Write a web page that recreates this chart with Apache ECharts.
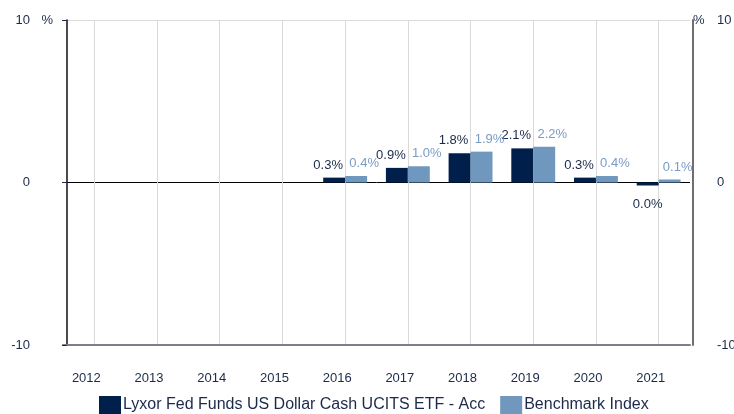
<!DOCTYPE html>
<html>
<head>
<meta charset="utf-8">
<script src="https://cdn.jsdelivr.net/npm/echarts@6/dist/echarts.min.js"></script>
<style>
  html, body { margin: 0; padding: 0; background: #fff; }
  #chart { width: 734px; height: 414px; }
</style>
</head>
<body>
<div id="chart"></div>
<script>
const years = ["2012", "2013", "2014", "2015", "2016", "2017", "2018", "2019", "2020", "2021"];
const fundName = "Lyxor Fed Funds US Dollar Cash UCITS ETF - Acc";
const benchName = "Benchmark Index";
const fundValues = [null, null, null, null, 0.3, 0.9, 1.8, 2.1, 0.3, -0.02];
const benchValues = [null, null, null, null, 0.4, 1.0, 1.9, 2.2, 0.4, 0.1];
const yTicks = [-10, 0, 10];

const navy = "#001f4b";
const steel = "#7098bf";
const textDark = "#1b2a4a";
const font = "'Liberation Sans', Arial, sans-serif";

function pct(v) {
  let s = Number(v).toFixed(1);
  if (s === "-0.0") s = "0.0";
  return s + "%";
}

const chart = echarts.init(document.getElementById("chart"), null, { renderer: "canvas" });

chart.setOption({
  animation: false,
  textStyle: { fontFamily: font },
  grid: { left: 63, right: 44, top: 20, bottom: 69, outerBoundsMode: "none", containLabel: false },
  legend: {
    left: 94,
    top: 391,
    itemWidth: 22,
    itemHeight: 18,
    itemGap: 15,
    icon: "rect",
    textStyle: { fontSize: 16, color: textDark, fontFamily: font, padding: [0, 0, 0, -3] },
    data: [fundName, benchName]
  },
  xAxis: {
    type: "category",
    data: years,
    axisLine: { show: true, onZero: false, lineStyle: { color: "#7a7f88", width: 2 } },
    axisTick: { show: false },
    axisLabel: { color: textDark, fontSize: 13, margin: 27, padding: [0, 16, 0, 0] },
    splitLine: { show: true, alignWithLabel: true, lineStyle: { color: "#d9d9d9", width: 1 } }
  },
  yAxis: [
    {
      type: "value",
      min: yTicks[0],
      max: yTicks[yTicks.length - 1],
      interval: 10,
      position: "left",
      offset: -4,
      name: "%",
      nameLocation: "end",
      nameGap: 0,
      nameTextStyle: { color: textDark, fontSize: 13, align: "right", verticalAlign: "middle", padding: [0, 14, 0, 0] },
      axisLine: { show: true, lineStyle: { color: "#111", width: 1.5 } },
      axisTick: { show: true, length: 5, lineStyle: { color: textDark } },
      axisLabel: { color: textDark, fontSize: 13, margin: 37 },
      splitLine: { show: true, lineStyle: { color: ["#7a7f88", "#000", "#dcdcdc"], width: 1 } }
    },
    {
      type: "value",
      min: yTicks[0],
      max: yTicks[yTicks.length - 1],
      interval: 10,
      position: "right",
      offset: 3,
      name: "%",
      nameLocation: "end",
      nameGap: 0,
      nameTextStyle: { color: textDark, fontSize: 13, align: "left", verticalAlign: "middle", padding: [0, 0, 0, 0] },
      axisLine: { show: true, lineStyle: { color: "#6e6e6e", width: 2 } },
      axisTick: { show: false },
      axisLabel: { color: textDark, fontSize: 13, margin: 24, align: "left" },
      splitLine: { show: false }
    }
  ],
  series: [
    {
      name: fundName,
      type: "bar",
      yAxisIndex: 0,
      barWidth: "35%",
      barGap: "0%",
      barMinHeight: 3,
      itemStyle: { color: navy },
      label: {
        show: true,
        position: "top",
        distance: 6,
        offset: [-6, 0],
        color: textDark,
        fontSize: 13,
        formatter: (p) => pct(p.value)
      },
      data: fundValues.map((v) => (v !== null && v < 0 ? { value: v, label: { position: "bottom", offset: [0, 6] } } : v))
    },
    {
      name: benchName,
      type: "bar",
      yAxisIndex: 0,
      barWidth: "35%",
      barGap: "0%",
      barMinHeight: 3,
      itemStyle: { color: steel },
      label: {
        show: true,
        position: "top",
        distance: 6,
        offset: [8, 0],
        color: "#7a9cc6",
        fontSize: 13,
        formatter: (p) => pct(p.value)
      },
      data: benchValues
    }
  ]
});
</script>
</body>
</html>
